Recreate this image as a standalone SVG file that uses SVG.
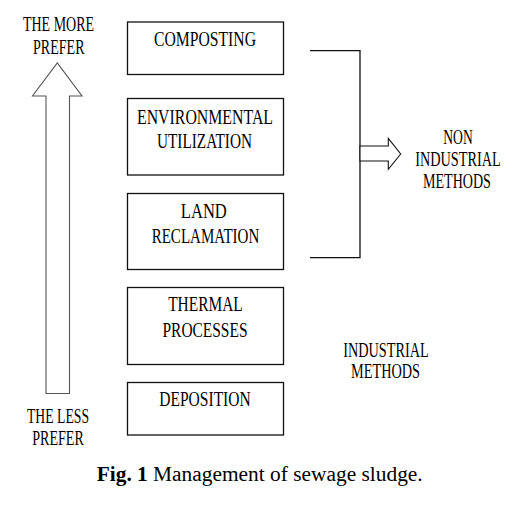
<svg xmlns="http://www.w3.org/2000/svg" width="511" height="505" viewBox="0 0 511 505">
<style>
.box{fill:#fff;stroke:#111;stroke-width:1.3}
.t{font-family:"Liberation Serif","Times New Roman",serif;font-size:20px;fill:#000;text-anchor:middle}
.cap{font-family:"Liberation Serif","Times New Roman",serif;font-size:20.5px;fill:#000}
.conn{fill:none;stroke:#111;stroke-width:1.3}
.barrow{fill:#fff;stroke:#111;stroke-width:1.1}
.garrow{fill:#fff;stroke:#555;stroke-width:1.1}
</style>
<rect width="511" height="505" fill="#fff"/>
<g id="connectors">
<polygon class="garrow" points="46,393.5 46,96 32.5,96 57.3,63 82,96 69.5,96 69.5,393.5"/>
<polyline class="conn" points="310,50.7 360,50.7 360,257.7 310,257.7"/>
<polygon class="barrow" points="360,146 388.3,146 388.3,138.3 400.7,154 388.3,169.3 388.3,161 360,161"/>
</g>
<g id="label-more">
<text class="t" x="58.5" y="31" textLength="71" lengthAdjust="spacingAndGlyphs">THE MORE</text>
<text class="t" x="58.8" y="53.5" textLength="51.5" lengthAdjust="spacingAndGlyphs">PREFER</text>
</g>
<g id="label-less">
<text class="t" x="58" y="422.5" textLength="62" lengthAdjust="spacingAndGlyphs">THE LESS</text>
<text class="t" x="58" y="445" textLength="51.5" lengthAdjust="spacingAndGlyphs">PREFER</text>
</g>
<g id="composting">
<rect class="box" x="127.5" y="22" width="156" height="52.5"/>
<text class="t" x="205" y="45.8" textLength="102" lengthAdjust="spacingAndGlyphs">COMPOSTING</text>
</g>
<g id="environmental">
<rect class="box" x="127.5" y="98.5" width="156" height="76.5"/>
<text class="t" x="205" y="123.5" textLength="136" lengthAdjust="spacingAndGlyphs">ENVIRONMENTAL</text>
<text class="t" x="204.5" y="147.8" textLength="95" lengthAdjust="spacingAndGlyphs">UTILIZATION</text>
</g>
<g id="land">
<rect class="box" x="127.5" y="193.5" width="156" height="76"/>
<text class="t" x="203.8" y="218" textLength="46" lengthAdjust="spacingAndGlyphs">LAND</text>
<text class="t" x="205.5" y="242.5" textLength="107.6" lengthAdjust="spacingAndGlyphs">RECLAMATION</text>
</g>
<g id="thermal">
<rect class="box" x="127.5" y="287.5" width="156" height="77"/>
<text class="t" x="205.5" y="311" textLength="74.6" lengthAdjust="spacingAndGlyphs">THERMAL</text>
<text class="t" x="205" y="336.5" textLength="85" lengthAdjust="spacingAndGlyphs">PROCESSES</text>
</g>
<g id="deposition">
<rect class="box" x="127.5" y="382.5" width="156" height="52.5"/>
<text class="t" x="205" y="406" textLength="91.4" lengthAdjust="spacingAndGlyphs">DEPOSITION</text>
</g>
<g id="non-industrial">
<text class="t" transform="translate(458 144) scale(0.68 1)" x="0" y="0">NON</text>
<text class="t" transform="translate(458 166) scale(0.714 1)" x="0" y="0">INDUSTRIAL</text>
<text class="t" transform="translate(457 188) scale(0.703 1)" x="0" y="0">METHODS</text>
</g>
<g id="industrial">
<text class="t" x="386" y="356.5" textLength="85.7" lengthAdjust="spacingAndGlyphs">INDUSTRIAL</text>
<text class="t" x="385.5" y="378" textLength="69" lengthAdjust="spacingAndGlyphs">METHODS</text>
</g>
<g id="caption">
<text class="cap" x="96.7" y="481" textLength="326" lengthAdjust="spacingAndGlyphs"><tspan font-weight="bold">Fig. 1</tspan> Management of sewage sludge.</text>
</g>
</svg>
